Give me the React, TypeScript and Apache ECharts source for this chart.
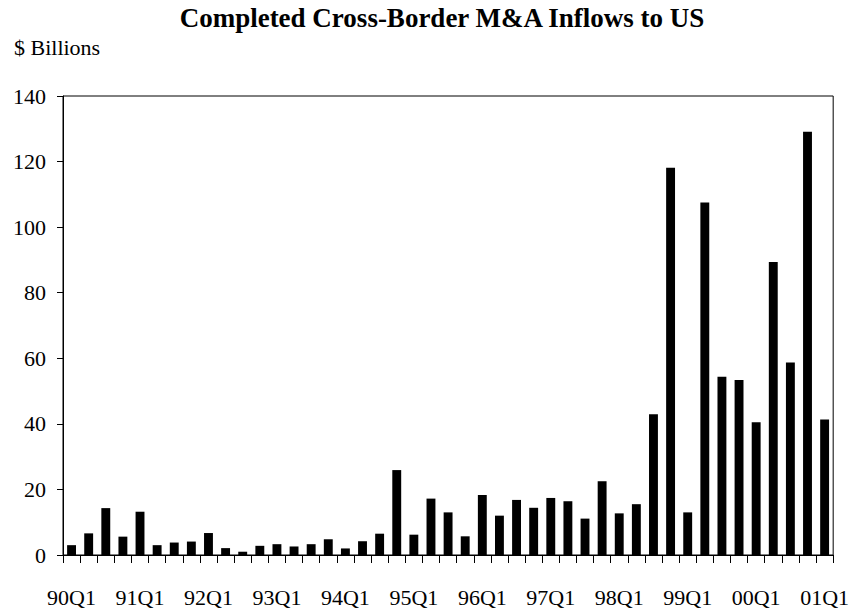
import React, { useEffect, useRef } from "react";
import * as echarts from "echarts";

const categories = [
  "90Q1", "90Q2", "90Q3", "90Q4",
  "91Q1", "91Q2", "91Q3", "91Q4",
  "92Q1", "92Q2", "92Q3", "92Q4",
  "93Q1", "93Q2", "93Q3", "93Q4",
  "94Q1", "94Q2", "94Q3", "94Q4",
  "95Q1", "95Q2", "95Q3", "95Q4",
  "96Q1", "96Q2", "96Q3", "96Q4",
  "97Q1", "97Q2", "97Q3", "97Q4",
  "98Q1", "98Q2", "98Q3", "98Q4",
  "99Q1", "99Q2", "99Q3", "99Q4",
  "00Q1", "00Q2", "00Q3", "00Q4",
  "01Q1",
];

const inflows = [
  3.0, 6.6, 14.3, 5.6,
  13.2, 3.0, 3.8, 4.1,
  6.7, 2.1, 1.0, 2.8,
  3.3, 2.6, 3.3, 4.8,
  2.0, 4.2, 6.5, 25.9,
  6.2, 17.2, 13.0, 5.7,
  18.3, 12.0, 16.8, 14.4,
  17.4, 16.4, 11.1, 22.5,
  12.7, 15.5, 42.9, 118.1,
  13.0, 107.5, 54.4, 53.4,
  40.5, 89.4, 58.7, 129.1,
  41.3,
];

const titleText = "Completed Cross-Border M&A Inflows to US";
const unitText = "$ Billions";

const FONT = "'Liberation Serif', 'Times New Roman', serif";

export default function App() {
  const ref = useRef<HTMLDivElement>(null);

  useEffect(() => {
    if (!ref.current) return;
    const chart = echarts.init(ref.current, undefined, { renderer: "svg" });
    chart.setOption({
      animation: false,
      backgroundColor: "#ffffff",
      textStyle: { fontFamily: FONT, color: "#000" },
      graphic: [
        {
          type: "text",
          x: 442,
          y: 4,
          style: {
            text: titleText,
            font: `bold 27px ${FONT}`,
            fill: "#000",
            textAlign: "center",
            textVerticalAlign: "top",
          },
        },
        {
          type: "text",
          x: 14,
          y: 36,
          style: {
            text: unitText,
            font: `22px ${FONT}`,
            fill: "#000",
            textAlign: "left",
            textVerticalAlign: "top",
          },
        },
      ],
      grid: {
        left: 63,
        right: 13,
        top: 96,
        bottom: 61,
        show: true,
        borderColor: "#000",
        borderWidth: 1,
        backgroundColor: "transparent",
      },
      xAxis: {
        type: "category",
        data: categories,
        boundaryGap: true,
        axisLine: { show: true, lineStyle: { color: "#000", width: 1 } },
        axisTick: {
          show: true,
          interval: 0,
          alignWithLabel: false,
          length: 8,
          lineStyle: { color: "#000", width: 1 },
        },
        axisLabel: {
          interval: 3,
          margin: 31,
          fontSize: 22,
          fontFamily: FONT,
          color: "#000",
        },
        splitLine: { show: false },
      },
      yAxis: {
        type: "value",
        min: 0,
        max: 140,
        interval: 20,
        axisLine: { show: true, lineStyle: { color: "#000", width: 1 } },
        axisTick: { show: true, length: 6, lineStyle: { color: "#000", width: 1 } },
        axisLabel: {
          margin: 17,
          fontSize: 22,
          fontFamily: FONT,
          color: "#000",
          padding: [5, 0, 0, 0],
        },
        splitLine: { show: false },
      },
      series: [
        {
          type: "bar",
          data: inflows,
          barWidth: "52%",
          itemStyle: { color: "#000" },
        },
      ],
    });
    return () => chart.dispose();
  }, []);

  return (
    <div
      ref={ref}
      style={{ position: "absolute", left: 0, top: 0, width: 852, height: 616 }}
    />
  );
}
